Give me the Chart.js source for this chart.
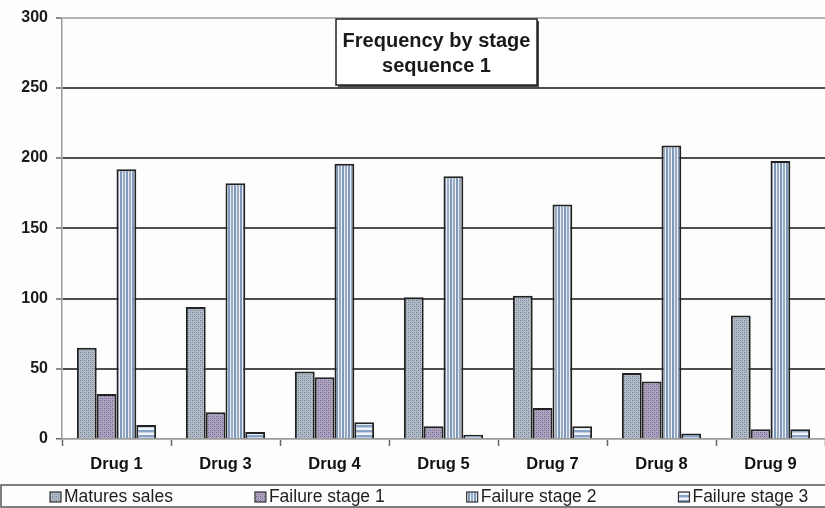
<!DOCTYPE html>
<html><head><meta charset="utf-8">
<script src="https://cdn.jsdelivr.net/npm/chart.js@4"></script>
<style>html,body{margin:0;padding:0;background:#fdfdfd;overflow:hidden}#wrap{position:relative;width:825px;height:508px}</style>
</head><body><div id="wrap"><canvas id="c" width="825" height="508"></canvas></div>
<script>
const categories = ['Drug 1','Drug 3','Drug 4','Drug 5','Drug 7','Drug 8','Drug 9'];
const seriesNames = ['Matures sales','Failure stage 1','Failure stage 2','Failure stage 3'];
const maturesSales = [65, 94, 48, 101, 102, 47, 88];
const failureStage1 = [32, 19, 44, 9, 22, 41, 7];
const failureStage2 = [192, 182, 196, 187, 167, 209, 198];
const failureStage3 = [10, 5, 12, 3, 9, 4, 7];
const yTicks = [0, 50, 100, 150, 200, 250, 300];
const titleLines = ['Frequency by stage', 'sequence 1'];

const canvas = document.getElementById('c');
const ctx0 = canvas.getContext('2d');
function tile(w, h, draw) {
  const c = document.createElement('canvas'); c.width = w; c.height = h;
  draw(c.getContext('2d')); return ctx0.createPattern(c, 'repeat');
}
const pMatures = tile(4, 4, g => {
  g.fillStyle = '#b0bbc7'; g.fillRect(0, 0, 4, 4);
  g.fillStyle = '#6f7e8f'; g.fillRect(0, 0, 1, 1); g.fillRect(2, 2, 1, 1);
  g.fillStyle = '#93a1b0'; g.fillRect(2, 0, 1, 1); g.fillRect(0, 2, 1, 1);
});
const pFail1 = tile(4, 4, g => {
  g.fillStyle = '#ada3c0'; g.fillRect(0, 0, 4, 4);
  g.fillStyle = '#706587'; g.fillRect(0, 0, 1, 1); g.fillRect(2, 2, 1, 1);
  g.fillStyle = '#9388a8'; g.fillRect(2, 0, 1, 1); g.fillRect(0, 2, 1, 1);
});
const pFail2 = tile(6, 6, g => {
  g.fillStyle = '#7f99bc'; g.fillRect(0, 0, 2, 6);
  g.fillStyle = '#e6ecf4'; g.fillRect(2, 0, 1, 6);
  g.fillStyle = '#9aabc2'; g.fillRect(3, 0, 2, 6);
  g.fillStyle = '#eef2f7'; g.fillRect(5, 0, 1, 6);
});
const pFail3 = tile(5, 5, g => {
  g.fillStyle = '#86a2c8'; g.fillRect(0, 0, 5, 2);
  g.fillStyle = '#c3d1e4'; g.fillRect(0, 2, 5, 1);
  g.fillStyle = '#f1f5f9'; g.fillRect(0, 3, 5, 2);
});
const fills = [pMatures, pFail1, pFail2, pFail3];
const seriesValues = [maturesSales, failureStage1, failureStage2, failureStage3];

const FONT = 'Arial, "Liberation Sans", sans-serif';

const overlay = {
  id: 'overlay',
  afterDraw(chart) {
    const ctx = chart.ctx;
    ctx.save();
    // title box
    const bx = 336, by = 19, bw = 201, bh = 66;
    ctx.fillStyle = '#4a4a4a'; ctx.fillRect(bx + 2, by + 2, bw, bh);
    ctx.fillStyle = '#ffffff'; ctx.fillRect(bx, by, bw, bh);
    ctx.strokeStyle = '#222'; ctx.lineWidth = 1.5; ctx.strokeRect(bx, by, bw, bh);
    ctx.fillStyle = '#1a1a1a'; ctx.textAlign = 'center'; ctx.textBaseline = 'middle';
    ctx.font = 'bold 20px ' + FONT;
    ctx.fillText(titleLines[0], bx + bw / 2, 41);
    ctx.fillText(titleLines[1], bx + bw / 2, 66);
    // legend
    ctx.strokeStyle = '#555'; ctx.lineWidth = 1.5;
    ctx.strokeRect(1, 485, 830, 22);
    ctx.font = '17.5px ' + FONT; ctx.textAlign = 'left';
    let x = 50;
    chart.data.datasets.forEach((ds) => {
      ctx.fillStyle = ds.backgroundColor; ctx.fillRect(x, 492, 11, 10);
      ctx.strokeStyle = '#333'; ctx.lineWidth = 1.2; ctx.strokeRect(x, 492, 11, 10);
      ctx.fillStyle = '#1e1e1e';
      ctx.fillText(ds.label, x + 14, 497);
      x += 14 + ctx.measureText(ds.label).width + 82;
    });
    ctx.restore();
  }
};

new Chart(canvas, {
  type: 'bar',
  data: {
    labels: categories,
    datasets: seriesNames.map((n, i) => ({
      label: n, data: seriesValues[i], backgroundColor: fills[i],
      borderColor: '#222', borderWidth: 2,
      categoryPercentage: 0.727, barPercentage: 1
    }))
  },
  options: {
    responsive: false, animation: false,
    layout: { padding: { top: 15, left: 0, right: 0, bottom: 24 } },
    plugins: { legend: { display: false }, title: { display: false }, tooltip: { enabled: false } },
    scales: {
      x: {
        afterFit: s => { s.height = 45; },
        grid: { display: true, drawOnChartArea: false, drawTicks: true, tickLength: 7, tickColor: '#666', tickWidth: 1.5, offset: true },
        border: { color: '#9a9a9a', width: 1.5 },
        ticks: { font: { family: FONT, size: 16.5, weight: 'bold' }, color: '#111', padding: 9 }
      },
      y: {
        min: 0, max: 300,
        afterBuildTicks: s => { s.ticks = yTicks.map(v => ({ value: v })); },
        afterFit: s => { s.width = 62; },
        grid: {
          color: c => (c.tick && c.tick.value === 300) ? '#b5b5b5' : ((c.tick && c.tick.value === 0) ? '#a5a5a5' : '#4e4e4e'),
          lineWidth: c => (c.tick && (c.tick.value === 0)) ? 1.5 : 2,
          tickLength: 6, tickColor: '#666', tickWidth: 1.5
        },
        border: { color: '#9a9a9a', width: 1.5 },
        ticks: { font: { family: FONT, size: 16, weight: 'bold' }, color: '#1a1a1a', padding: 8 }
      }
    }
  },
  plugins: [overlay]
});
</script></body></html>
